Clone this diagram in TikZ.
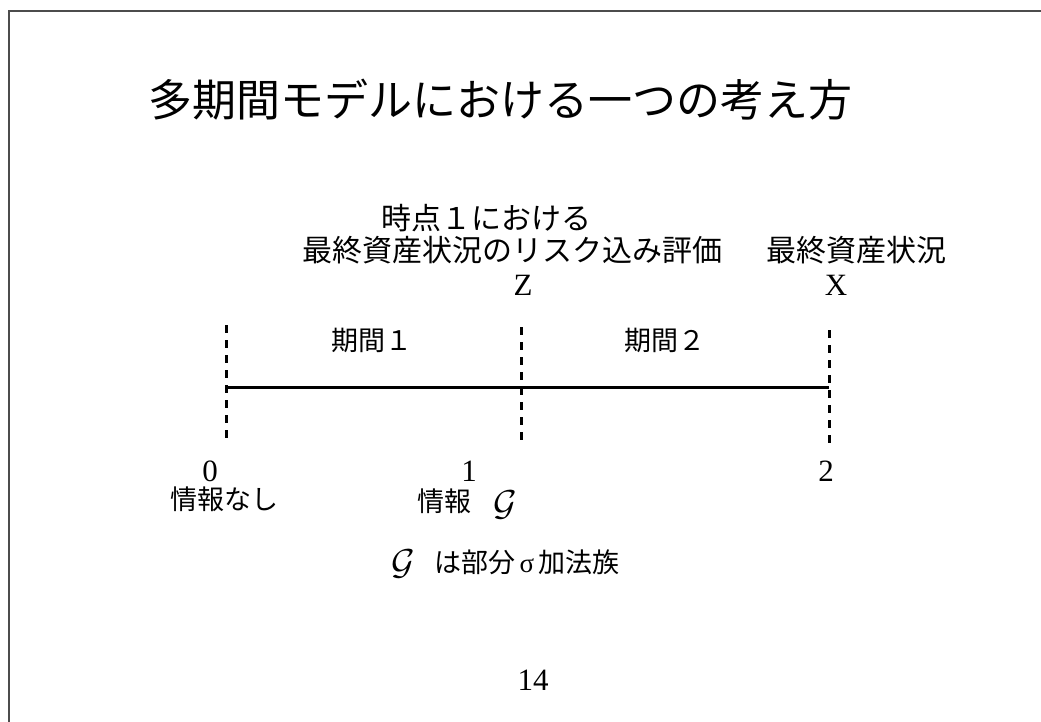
\documentclass[tikz,border=0pt]{standalone}
\usepackage{fontspec}
\setmainfont{Liberation Serif}
\newfontfamily\cjk{Noto Sans CJK JP}
\begin{document}
\begin{tikzpicture}[x=1pt,y=-1pt,
  every node/.style={inner sep=0pt,outer sep=0pt,anchor=center},
  titletext/.style={font=\cjk\fontsize{44}{50}\selectfont},
  jtext/.style={font=\cjk\fontsize{30}{34}\selectfont},
  jsmall/.style={font=\cjk\fontsize{27}{32}\selectfont},
  ltext/.style={font=\fontsize{31}{34}\selectfont},
  gtext/.style={font=\fontsize{10}{12}\selectfont,scale=3.6},
  guide/.style={line width=3pt,dash pattern=on 8pt off 7pt},
  axis/.style={line width=3pt},
  frameline/.style={line width=2pt,draw=black!70}]
\useasboundingbox (0,0) rectangle (1041,722);
\draw[frameline] (8.5,722) -- (8.5,11) -- (1041,11);
\node[titletext] (title) at (500,100) {多期間モデルにおける一つの考え方};
\node[jtext] (t1) at (486,218) {時点１における};
\node[jtext] (t2) at (512,250) {最終資産状況のリスク込み評価};
\node[jtext] (t3) at (856,250) {最終資産状況};
\node[ltext] (z) at (523,285) {Z};
\node[ltext] (x) at (836,285) {X};
\node[jsmall] (k1) at (372,340) {期間１};
\node[jsmall] (k2) at (665,340) {期間２};
\coordinate (a0) at (226,325);
\coordinate (b0) at (226,443);
\coordinate (a1) at (521,327);
\coordinate (b1) at (521,443);
\coordinate (a2) at (829,330);
\coordinate (b2) at (829,447);
\coordinate (l0) at (226,387);
\coordinate (l2) at (829,387);
\draw[guide] (a0) -- (b0);
\draw[guide] (a1) -- (b1);
\draw[guide] (a2) -- (b2);
\draw[axis] (l0) -- (l2);
\node[ltext] (n0) at (210,471) {0};
\node[ltext] (n1) at (469,471) {1};
\node[ltext] (n2) at (826,471) {2};
\node[jsmall] (i0) at (224,499) {情報なし};
\node[jsmall] (i1) at (444,501) {情報};
\node[gtext] (g1) at (505,505) {$\mathcal{G}$};
\node[gtext] (g2) at (403,564) {$\mathcal{G}$};
\node[jsmall] (gt) at (527,562) {は部分\,{\fontspec{Liberation Serif}σ}\,加法族};
\node[ltext] (pg) at (533,680) {14};
\end{tikzpicture}
\end{document}
